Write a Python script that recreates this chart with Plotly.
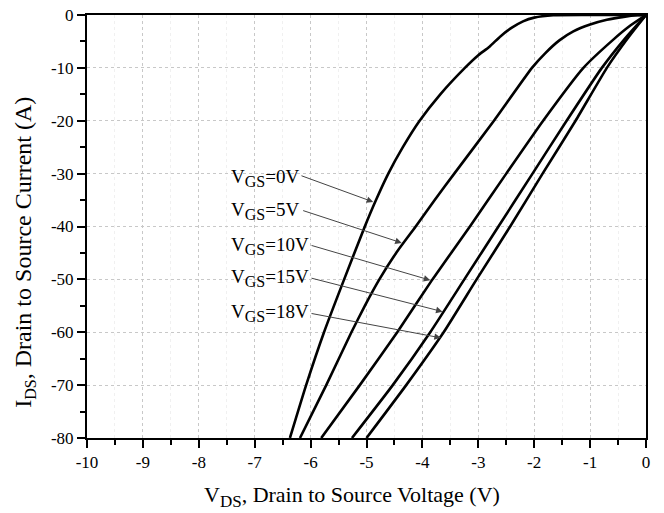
import plotly.graph_objects as go

# V_DS (V) and I_DS (A) for each V_GS curve
vds_0v = [-6.37, -6.08, -5.76, -5.40, -5.03, -4.83, -4.61, -4.35, -4.05, -3.68, -3.24, -3.00, -2.80, -2.60, -2.40, -2.20, -2.00, -1.66, -1.0, 0.0]
ids_0v = [-80, -70, -60, -50, -40, -35, -30, -25, -20, -15, -10, -7.6, -6.0, -4.0, -2.4, -1.2, -0.5, -0.05, 0, 0]

vds_5v = [-6.19, -5.72, -5.27, -5.03, -4.77, -4.47, -4.12, -3.78, -3.43, -2.72, -2.04, -1.80, -1.55, -1.30, -1.00, -0.70, -0.40, -0.15, 0.0]
ids_5v = [-80, -70, -60, -55, -50, -45, -40, -35, -30, -20, -10, -7.2, -4.8, -3.1, -1.8, -0.9, -0.35, -0.05, 0]

vds_10v = [-5.81, -5.12, -4.45, -3.82, -3.15, -2.50, -1.84, -1.12, -0.60, -0.28, 0.0]
ids_10v = [-80, -70, -60, -50, -40, -30, -20, -10, -4.8, -2.0, 0]

vds_15v = [-5.26, -4.53, -3.86, -3.25, -2.64, -2.03, -1.42, -0.79, -0.38, 0.0]
ids_15v = [-80, -70, -60, -50, -40, -30, -20, -10, -4.5, 0]

vds_18v = [-5.00, -4.29, -3.62, -3.03, -2.43, -1.85, -1.26, -0.70, -0.34, 0.0]
ids_18v = [-80, -70, -60, -50, -40, -30, -20, -10, -4.6, 0]

label_main = ["V", "V", "V", "V", "V"]
label_sub = ["GS", "GS", "GS", "GS", "GS"]
label_rest = ["=0V", "=5V", "=10V", "=15V", "=18V"]
label_x = [-7.46, -7.46, -7.46, -7.46, -7.46]
label_y = [-30.9, -37.1, -43.6, -49.7, -56.3]
arrow_tail_x = [-6.19, -6.16, -6.01, -6.01, -6.01]
arrow_tail_y = [-30.3, -36.9, -43.5, -49.7, -56.4]
arrow_head_x = [-4.88, -4.37, -3.86, -3.64, -3.67]
arrow_head_y = [-35.35, -43.1, -50.15, -56.1, -61.06]

x_ticks = list(range(-10, 1))
y_ticks = list(range(-80, 1, 10))

x_title = "V<sub><span style='font-size:17px'>DS</span></sub>, Drain to Source Voltage (V)"
y_title = "I<sub><span style='font-size:16px'>DS</span></sub>, Drain to Source Current (A)"

FONT = "Liberation Serif"

fig = go.Figure()
for xs, ys in [(vds_0v, ids_0v), (vds_5v, ids_5v), (vds_10v, ids_10v), (vds_15v, ids_15v), (vds_18v, ids_18v)]:
    fig.add_trace(go.Scatter(x=xs, y=ys, mode="lines",
                             line=dict(color="black", width=2.6, shape="spline", smoothing=0.5),
                             showlegend=False, hoverinfo="skip"))

for m, s, r, lx, ly in zip(label_main, label_sub, label_rest, label_x, label_y):
    fig.add_annotation(x=lx, y=ly, xref="x", yref="y",
                       text=f"{m}<sub><span style='font-size:16px'>{s}</span></sub>{r}",
                       showarrow=False, xanchor="left", yanchor="middle",
                       font=dict(family=FONT, size=19, color="black"))

for tx, ty, hx, hy in zip(arrow_tail_x, arrow_tail_y, arrow_head_x, arrow_head_y):
    fig.add_annotation(x=hx, y=hy, ax=tx, ay=ty, xref="x", yref="y", axref="x", ayref="y",
                       text="", showarrow=True, arrowhead=2, arrowsize=1.3, arrowwidth=1,
                       arrowcolor="#444444", standoff=0, startstandoff=0)

# axis titles
fig.add_annotation(x=0.474, y=0, xref="paper", yref="paper", yshift=-58, text=x_title,
                   showarrow=False, xanchor="center", yanchor="middle",
                   font=dict(family=FONT, size=22, color="black"))
fig.add_annotation(x=0, y=0.438, xref="paper", yref="paper", xshift=-62, text=y_title,
                   showarrow=False, xanchor="center", yanchor="middle", textangle=-90,
                   font=dict(family=FONT, size=24, color="black"))

axis_common = dict(showline=True, linewidth=2, linecolor="black", mirror=True,
                   ticks="outside", ticklen=8, tickwidth=2, tickcolor="black",
                   showgrid=True, gridcolor="#c8c8c8", griddash="dot", gridwidth=1,
                   zeroline=False, automargin=False, ticklabeloverflow="allow",
                   tickfont=dict(family=FONT, size=17, color="black"))

fig.update_xaxes(range=[-10, 0], tickvals=x_ticks, ticktext=[str(v) for v in x_ticks],
                 minor=dict(dtick=0.5, tick0=0, ticks="outside", ticklen=5, tickwidth=2, tickcolor="black",
                            showgrid=True, gridcolor="#f0f0f0", griddash="dot"),
                 **axis_common)
fig.update_yaxes(range=[-80, 0], tickvals=y_ticks, ticktext=[str(v) for v in y_ticks],
                 minor=dict(dtick=5, tick0=0, ticks="outside", ticklen=5, tickwidth=2, tickcolor="black",
                            showgrid=False),
                 **axis_common)

fig.update_layout(width=664, height=513,
                  margin=dict(l=87, r=18, t=15, b=75),
                  paper_bgcolor="white", plot_bgcolor="white",
                  font=dict(family=FONT, color="black"))

# remove the page body's default 8 px margin so the figure fills the window
fig.write_html("out.html", config={"displayModeBar": False},
               post_script="document.body.style.margin='0';")
